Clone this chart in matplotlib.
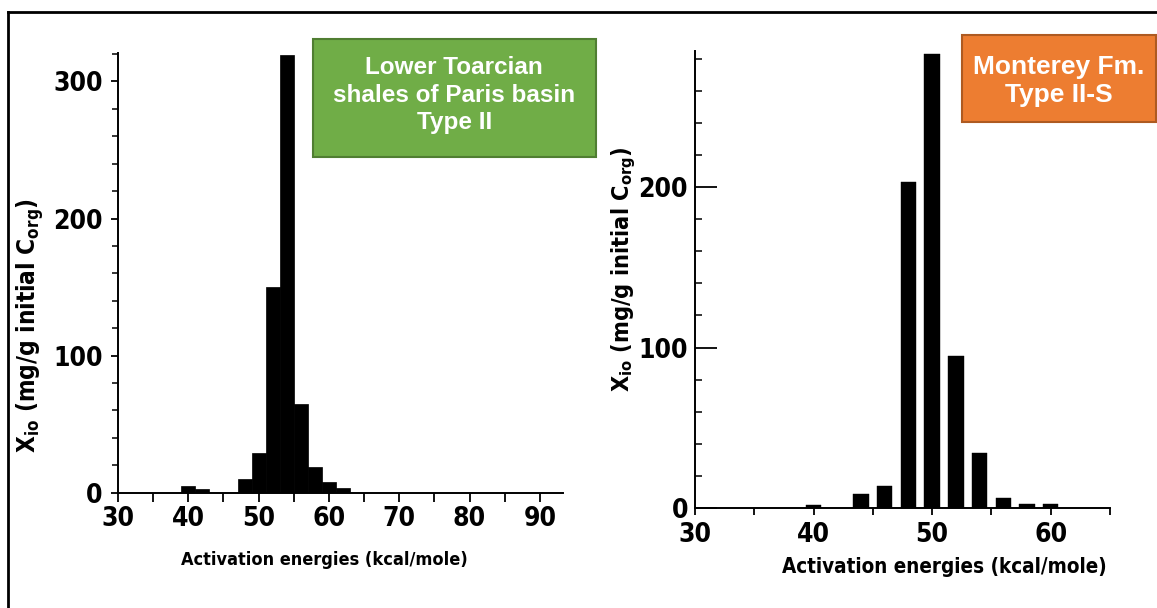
import matplotlib
matplotlib.use("Agg")
import matplotlib.pyplot as plt
from matplotlib import font_manager
from matplotlib.patches import Rectangle
from matplotlib.lines import Line2D
from matplotlib.ticker import MultipleLocator

# -- Data ----------------------------------------------------------------
toarcian_energy = [40, 42, 48, 50, 52, 54, 56, 58, 60, 62]
toarcian_xio = [5, 3, 10, 29, 150, 319, 65, 18.5, 8, 3.5]

monterey_energy = [40, 44, 46, 48, 50, 52, 54, 56, 58, 60]
monterey_xio = [2, 8.5, 14, 203, 283, 95, 34, 6.5, 2.3, 2.3]

toarcian_label = "Lower Toarcian\nshales of Paris basin\nType II"
monterey_label = "Monterey Fm.\nType II-S"
x_title = "Activation energies (kcal/mole)"
y_title = r"X$_{\rm io}$ (mg/g initial C$_{\rm org}$)"

# -- Fonts: the scanned figure uses a condensed bold face -------------------
narrow_fonts = [f for f in font_manager.fontManager.ttflist
                if ("Narrow" in f.name or "Condensed" in f.name
                    or f.stretch in ("condensed", "semi-condensed", "extra-condensed", 700, 600))]
if narrow_fonts:
    NARROW = narrow_fonts[0].name
    STRETCH = narrow_fonts[0].stretch
    TICK_FS, XLAB_FS, YLAB_FS = 19, 13, 17.5
else:
    NARROW = "Liberation Sans"
    STRETCH = "normal"
    TICK_FS, XLAB_FS, YLAB_FS = 16, 12, 15

plt.rcParams["font.family"] = [NARROW, "DejaVu Sans"]
plt.rcParams["font.stretch"] = STRETCH
plt.rcParams["font.weight"] = "bold"
plt.rcParams["axes.labelweight"] = "bold"
plt.rcParams["mathtext.fontset"] = "custom"
plt.rcParams["mathtext.rm"] = f"{NARROW}:bold"
plt.rcParams["mathtext.it"] = f"{NARROW}:bold"
plt.rcParams["mathtext.bf"] = f"{NARROW}:bold"

fig = plt.figure(figsize=(11.57, 6.08), dpi=100)

# -- Left panel: Toarcian -----------------------------------------------
ax1 = fig.add_axes([0.102, 0.1896, 0.3846, 0.7237])
ax1.bar(toarcian_energy, toarcian_xio, width=2.0, color="black", edgecolor="black", linewidth=0.5)
ax1.set_xlim(30, 93.3)
ax1.set_ylim(0, 321)
ax1.xaxis.set_major_locator(MultipleLocator(10))
ax1.xaxis.set_minor_locator(MultipleLocator(5))
ax1.yaxis.set_major_locator(MultipleLocator(100))
ax1.yaxis.set_minor_locator(MultipleLocator(20))
ax1.tick_params(axis="x", which="both", direction="out", length=6.5, width=1.3, labelsize=TICK_FS, pad=3)
ax1.tick_params(axis="y", which="major", direction="out", length=5, width=1.3, labelsize=TICK_FS, pad=6)
ax1.tick_params(axis="y", which="minor", direction="out", length=4, width=1.1)
ax1.set_xlabel(x_title, fontsize=XLAB_FS)
ax1.set_ylabel(y_title, fontsize=YLAB_FS)
ax1.xaxis.set_label_coords(0.463, -0.1325)
ax1.yaxis.set_label_coords(-0.161, 0.379)

# -- Right panel: Monterey ----------------------------------------------
ax2 = fig.add_axes([0.6007, 0.1645, 0.3587, 0.7521])
ax2.bar(monterey_energy, monterey_xio, width=1.3, color="black", edgecolor="black", linewidth=0.3)
ax2.set_xlim(30, 65)
ax2.set_ylim(0, 285)
ax2.xaxis.set_major_locator(MultipleLocator(10))
ax2.xaxis.set_minor_locator(MultipleLocator(5))
ax2.yaxis.set_major_locator(MultipleLocator(100))
ax2.yaxis.set_minor_locator(MultipleLocator(20))
ax2.tick_params(axis="x", which="both", direction="out", length=5, width=1.3, labelsize=TICK_FS, pad=5)
ax2.tick_params(axis="y", which="major", direction="in", length=15.5, width=1.3, labelsize=TICK_FS, pad=5)
ax2.tick_params(axis="y", which="minor", direction="in", length=5, width=1.1)
ax2.set_xlabel(x_title, fontsize=XLAB_FS + 1.8)
ax2.set_ylabel(y_title, fontsize=YLAB_FS - 0.7)
ax2.xaxis.set_label_coords(0.602, -0.107)
ax2.yaxis.set_label_coords(-0.137, 0.523)

for ax in (ax1, ax2):
    for side in ("top", "right"):
        ax.spines[side].set_visible(False)
    for side in ("left", "bottom"):
        ax.spines[side].set_linewidth(1.4)

# -- Label boxes ------------------------------------------------------------
fig.patches.append(Rectangle((0.2703, 0.7423), 0.2449, 0.1931, transform=fig.transFigure,
                             facecolor="#70AD47", edgecolor="#507E32", linewidth=1.5))
fig.text(0.3927, 0.8433, toarcian_label, ha="center", va="center", color="white",
         fontsize=17.5, fontweight="bold", family="Liberation Sans", fontstretch="normal",
         linespacing=1.25)

fig.patches.append(Rectangle((0.8312, 0.7998), 0.168, 0.1426, transform=fig.transFigure,
                             facecolor="#ED7D31", edgecolor="#AE5A21", linewidth=1.5))
fig.text(0.9153, 0.867, monterey_label, ha="center", va="center", color="white",
         fontsize=19, fontweight="bold", family="Liberation Sans", fontstretch="normal",
         linespacing=1.2)

# -- Slide frame (top and left edges) ---------------------------------------
fig.lines.append(Line2D([0.0067, 1.0], [0.981, 0.981], transform=fig.transFigure, color="black", linewidth=2))
fig.lines.append(Line2D([0.0067, 0.0067], [0.0, 0.981], transform=fig.transFigure, color="black", linewidth=2))

fig.savefig("out.png", dpi=100)
